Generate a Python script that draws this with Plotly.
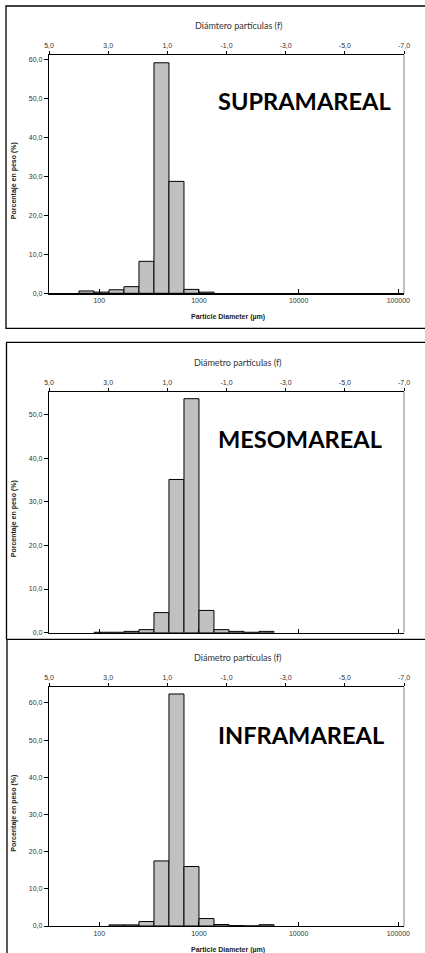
import plotly.graph_objects as go

# ---------------- data ----------------
panel_names = ["SUPRAMAREAL", "MESOMAREAL", "INFRAMAREAL"]
top_titles = ["Diámtero partículas (f)", "Diámetro partículas (f)", "Diámetro partículas (f)"]

# phi value of the fine edge of each 0.5-phi class (bar spans phi .. phi-0.5)
supra_phi = [4.0, 3.5, 3.0, 2.5, 2.0, 1.5, 1.0, 0.5, 0.0]
supra_pct = [0.6, 0.3, 0.9, 1.7, 8.2, 59.1, 28.7, 1.0, 0.3]

meso_phi = [3.5, 3.0, 2.5, 2.0, 1.5, 1.0, 0.5, 0.0, -0.5, -1.0, -1.5, -2.0]
meso_pct = [0.1, 0.1, 0.3, 0.7, 4.6, 35.1, 53.6, 5.1, 0.7, 0.3, 0.1, 0.3]

infra_phi = [3.0, 2.5, 2.0, 1.5, 1.0, 0.5, 0.0, -0.5, -1.0, -1.5, -2.0]
infra_pct = [0.3, 0.3, 1.2, 17.5, 62.4, 16.0, 2.0, 0.4, 0.1, 0.0, 0.35]

y_max = [61.1, 55.2, 64.2]
y_ticks = [[0, 10, 20, 30, 40, 50, 60], [0, 10, 20, 30, 40, 50], [0, 10, 20, 30, 40, 50, 60]]

phi_ticks = [5, 3, 1, -1, -3, -5, -7]
phi_ticktext = ["5,0", "3,0", "1,0", "-1,0", "-3,0", "-5,0", "-7,0"]
um_ticks = [100, 1000, 10000, 100000]
um_ticktext = ["100", "1000", "10000", "100000"]

series = [(supra_phi, supra_pct), (meso_phi, meso_pct), (infra_phi, infra_pct)]

# ---------------- layout geometry (pixels) ----------------
W, H = 425, 953
plot_left, plot_right = 49, 404
plot_tb = [(55, 293.3), (391.7, 632.7), (687.3, 926)]
log_range = [1.4953, 5.0572]


def px(x):
    return x / W


def py(y):
    return 1 - y / H


fig = go.Figure()
layout = dict(
    width=W, height=H, autosize=False,
    margin=dict(l=0, r=0, t=0, b=0, pad=0, autoexpand=False),
    paper_bgcolor="white", plot_bgcolor="white",
    separators=",.",
    showlegend=False,
    font=dict(family="Liberation Sans, Arial, sans-serif", color="#222"),
)
shapes = []
annotations = []

tick_font = dict(family="Liberation Sans, Arial, sans-serif", size=7, color="#333")

for k, (phis, pct) in enumerate(series):
    xa = 2 * k + 1
    xb = 2 * k + 2
    ya = k + 1
    xa_name = "x" if xa == 1 else f"x{xa}"
    xb_name = f"x{xb}"
    ya_name = "y" if ya == 1 else f"y{ya}"
    top, bot = plot_tb[k]
    xdom = [px(plot_left), px(plot_right)]
    ydom = [py(bot), py(top)]

    lo = [1000 * 2 ** (-p) for p in phis]
    hi = [1000 * 2 ** (-(p - 0.5)) for p in phis]
    mids = [(a + b) / 2 for a, b in zip(lo, hi)]
    widths = [b - a for a, b in zip(lo, hi)]

    fig.add_trace(go.Bar(
        x=mids, y=pct, width=widths,
        marker=dict(color="#c0c0c0", line=dict(color="black", width=1)),
        xaxis=xa_name, yaxis=ya_name, hoverinfo="skip",
    ))
    fig.add_trace(go.Scatter(
        x=[phi_ticks[0]], y=[0], mode="markers", marker=dict(opacity=0),
        xaxis=xb_name, yaxis=ya_name, hoverinfo="skip",
    ))

    layout[f"xaxis{'' if xa == 1 else xa}"] = dict(
        type="log", range=log_range, domain=xdom, anchor=ya_name,
        tickvals=um_ticks, ticktext=um_ticktext,
        ticks="inside", ticklen=4, tickcolor="black",
        showline=True, linecolor="black", linewidth=1.2,
        showgrid=False, zeroline=False, tickfont=tick_font,
        showticklabels=(k != 1), automargin=False,
    )
    layout[f"xaxis{xb}"] = dict(
        range=[5, -7], domain=xdom, anchor=ya_name, overlaying=xa_name, side="top",
        tickvals=phi_ticks, ticktext=phi_ticktext,
        ticks="outside", ticklen=3, tickcolor="black",
        showline=True, linecolor="black", linewidth=1.2,
        showgrid=False, zeroline=False, tickfont=tick_font, automargin=False,
    )
    layout[f"yaxis{'' if ya == 1 else ya}"] = dict(
        range=[0, y_max[k]], domain=ydom, anchor=xa_name,
        tickvals=y_ticks[k], tickformat=".1f",
        ticks="outside", ticklen=4, tickcolor="black",
        showline=True, linecolor="black", linewidth=1.2,
        showgrid=False, zeroline=False, tickfont=tick_font, automargin=False,
    )
    # right border of plot area
    shapes.append(dict(type="line", xref="paper", yref=f"{ya_name} domain",
                       x0=px(plot_right), x1=px(plot_right), y0=0, y1=1,
                       line=dict(color="#808080", width=1)))

    # annotations
    annotations.append(dict(text=top_titles[k], xref="paper", yref="paper",
                            x=px(238), y=py(top - 29.5), showarrow=False,
                            xanchor="center", yanchor="middle",
                            font=dict(family="Lato, sans-serif", size=9, color="#333")))
    annotations.append(dict(text="<b>Porcentaje en peso (%)</b>", xref="paper", yref="paper",
                            x=px(14), y=py((top + bot) / 2 + 7), showarrow=False, textangle=-90,
                            xanchor="center", yanchor="middle",
                            font=dict(family="Liberation Sans, Arial, sans-serif", size=7, color="#222")))
    if k != 1:
        annotations.append(dict(text="<b>Particle Diameter (µm)</b>", xref="paper", yref="paper",
                                x=px(228), y=py(bot + 24), showarrow=False,
                                xanchor="center", yanchor="middle",
                                font=dict(family="Liberation Sans, Arial, sans-serif", size=7, color="#222")))
    annotations.append(dict(text=f"<b>{panel_names[k]}</b>", xref="paper", yref="paper",
                            x=px(216), y=py([101.5, 439, 734.7][k]), showarrow=False,
                            xanchor="left", yanchor="middle",
                            font=dict(family="Lato, sans-serif", size=23.6, color="black")))

# outer panel borders
bw = dict(color="black", width=1.3)
shapes += [
    dict(type="rect", xref="paper", yref="paper", x0=px(6), x1=1.02, y0=py(328.3), y1=py(6), line=bw),
    dict(type="line", xref="paper", yref="paper", x0=px(6), x1=1.02, y0=py(342.3), y1=py(342.3), line=bw),
    dict(type="line", xref="paper", yref="paper", x0=px(6.5), x1=px(6.5), y0=py(342.3), y1=py(639.3), line=bw),
    dict(type="line", xref="paper", yref="paper", x0=px(6.5), x1=1.02, y0=py(639.3), y1=py(639.3), line=bw),
    dict(type="line", xref="paper", yref="paper", x0=px(7), x1=px(7), y0=py(639.3), y1=-0.02, line=bw),
]

layout["shapes"] = shapes
layout["annotations"] = annotations
fig.update_layout(**layout)
fig.write_html(
    "out.html",
    config={"displayModeBar": False, "staticPlot": True},
    post_script="document.body.style.margin='0';document.body.style.overflow='hidden';",
)
